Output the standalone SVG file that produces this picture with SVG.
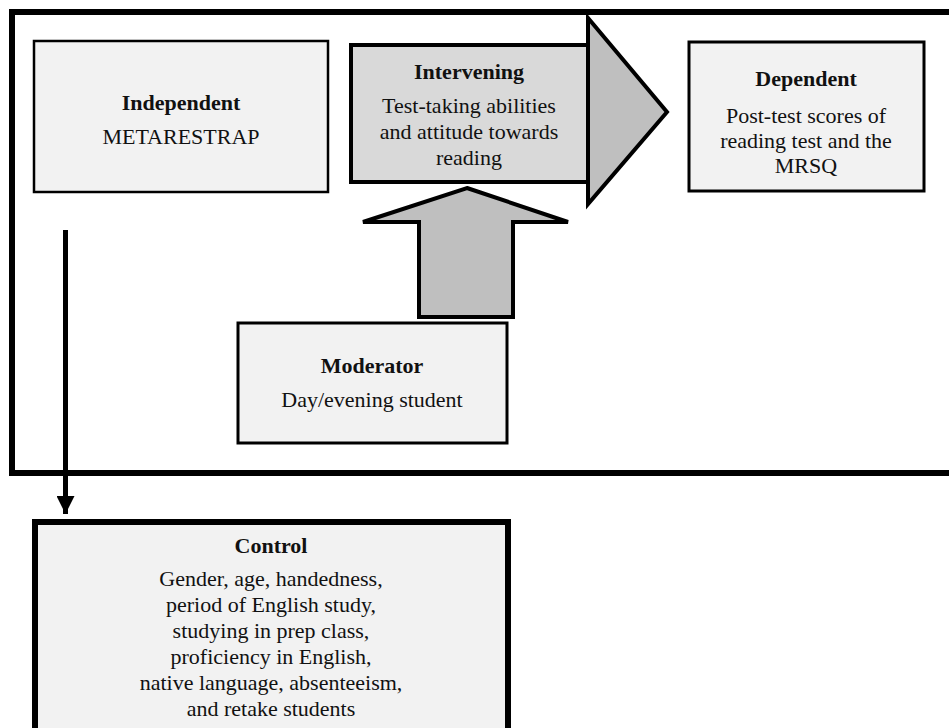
<svg xmlns="http://www.w3.org/2000/svg" width="949" height="728" viewBox="0 0 949 728">
  <style>
    .box { fill: #f2f2f2; stroke: #000; }
    text { font-family: 'Liberation Serif', 'Times New Roman', Times, serif; font-size: 22px; fill: #111; text-anchor: middle; }
    .hd { font-weight: bold; }
    .big { fill: #bfbfbf; stroke: #000; stroke-width: 4; stroke-linejoin: miter; }
  </style>
  <defs>
    <marker id="head" viewBox="0 0 10 10" refX="10" refY="5" markerWidth="3.6" markerHeight="3.6" orient="auto" markerUnits="strokeWidth">
      <path d="M0,0 L10,5 L0,10 Z" fill="#000"/>
    </marker>
  </defs>
  <rect width="949" height="728" fill="#fff"/>

  <!-- open frame around the model -->
  <path d="M949,12 H12 V473 H949" fill="none" stroke="#000" stroke-width="6"/>

  <g id="connectors">
    <!-- Independent to Control -->
    <line x1="65.5" y1="230" x2="65.5" y2="514" stroke="#000" stroke-width="5" marker-end="url(#head)"/>
    <!-- Moderator up to Intervening -->
    <polygon class="big" points="467,188 568,222 513,222 513,317 419,317 419,222 363,222"/>
  </g>

  <g id="independent" font-family="Liberation Serif, serif">
    <rect class="box" x="34" y="41" width="294" height="151" stroke-width="2.5"/>
    <text class="hd" x="181" y="110">Independent</text>
    <text x="181" y="144">METARESTRAP</text>
  </g>

  <g id="intervening" font-family="Liberation Serif, serif">
    <!-- arrow body and head -->
    <polygon class="big" points="351,45 588,45 588,18 667,112 588,204 588,182 351,182"/>
    <line x1="588" y1="18" x2="588" y2="204" stroke="#000" stroke-width="3.5"/>
    <rect x="351" y="45" width="237" height="137" fill="#d9d9d9" stroke="#000" stroke-width="4"/>
    <text class="hd" x="469" y="79">Intervening</text>
    <text x="469" y="113">Test-taking abilities</text>
    <text x="469" y="139">and attitude towards</text>
    <text x="469" y="165">reading</text>
  </g>

  <g id="dependent" font-family="Liberation Serif, serif">
    <rect class="box" x="689" y="42" width="235" height="149" stroke-width="3"/>
    <text class="hd" x="806" y="86">Dependent</text>
    <text x="806" y="123">Post-test scores of</text>
    <text x="806" y="148">reading test and the</text>
    <text x="806" y="173">MRSQ</text>
  </g>

  <g id="moderator" font-family="Liberation Serif, serif">
    <rect class="box" x="238" y="323" width="269" height="120" stroke-width="3"/>
    <text class="hd" x="372" y="373">Moderator</text>
    <text x="372" y="407">Day/evening student</text>
  </g>

  <g id="control" font-family="Liberation Serif, serif">
    <rect class="box" x="35" y="522" width="473" height="230" stroke-width="6"/>
    <text class="hd" x="271" y="553">Control</text>
    <text x="271" y="586">Gender, age, handedness,</text>
    <text x="271" y="612">period of English study,</text>
    <text x="271" y="638">studying in prep class,</text>
    <text x="271" y="664">proficiency in English,</text>
    <text x="271" y="690">native language, absenteeism,</text>
    <text x="271" y="716">and retake students</text>
  </g>
</svg>
